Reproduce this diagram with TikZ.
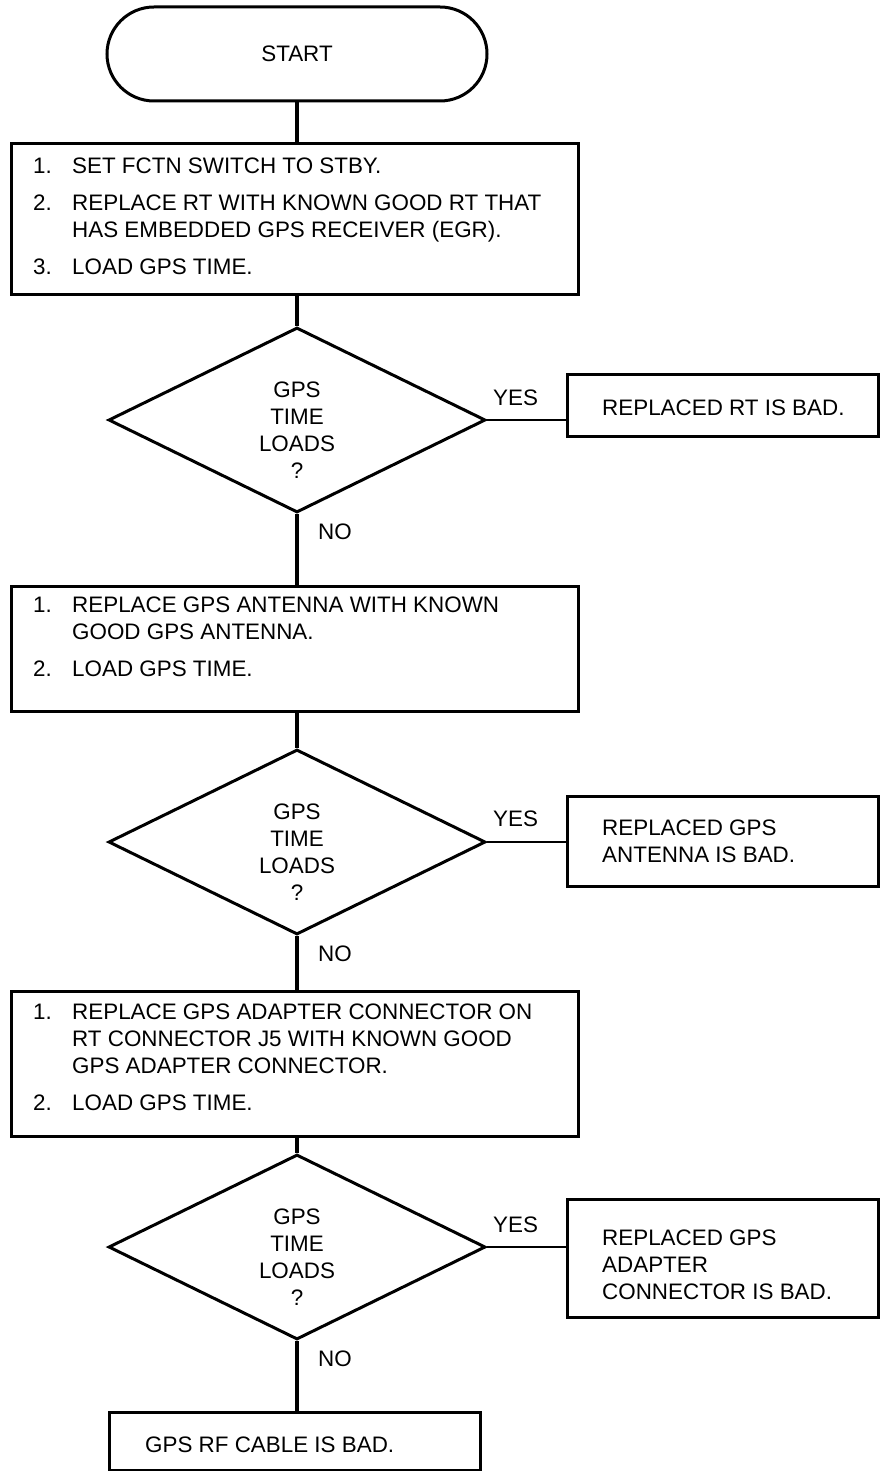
\documentclass[tikz,border=0pt]{standalone}
\usepackage{fontspec}
\setmainfont{Liberation Sans}
\usetikzlibrary{shapes.geometric}
\begin{document}
\begin{tikzpicture}[x=1pt,y=-1pt,
  every node/.style={font=\fontsize{22.4}{27}\selectfont, inner sep=0pt},
  termst/.style={draw, line width=3pt, rounded corners=47pt, minimum width=380pt, minimum height=94pt},
  boxst/.style={draw, line width=3pt, rectangle, anchor=north west},
  diast/.style={draw, line width=3pt, diamond, minimum width=377pt, minimum height=185pt},
  txt/.style={anchor=base west},
  qtxt/.style={align=center},
  conn/.style={line width=4.8pt},
  yconn/.style={line width=2.8pt}]
\useasboundingbox (0,0) rectangle (879,1471);

% start
\node[termst] (start) at (297,54) {START};

% box 1
\node[boxst, minimum width=567pt, minimum height=151pt] (b1) at (10,142) {};
\node[txt] (b1t) at (33,174) {\begin{tabular}[t]{@{}p{39pt}@{}l@{}}
1.&SET FCTN SWITCH TO STBY.\\[10pt]
2.&REPLACE RT WITH KNOWN GOOD RT THAT\\
  &HAS EMBEDDED GPS RECEIVER (EGR).\\[10pt]
3.&LOAD GPS TIME.\end{tabular}};

% decision 1
\node[diast] (d1) at (297,420) {};
\node[qtxt] (q1) at (297,430) {GPS\\TIME\\LOADS\\?};
\node[boxst, minimum width=311pt, minimum height=62pt] (y1) at (566,373) {};
\node[txt] (y1t) at (602,415) {REPLACED RT IS BAD.};
\node[txt] (yes1) at (493,405) {YES};
\node[txt] (no1) at (318,539) {NO};

% box 2
\node[boxst, minimum width=567pt, minimum height=125pt] (b2) at (10,585) {};
\node[txt] (b2t) at (33,612) {\begin{tabular}[t]{@{}p{39pt}@{}l@{}}
1.&REPLACE GPS ANTENNA WITH KNOWN\\
  &GOOD GPS ANTENNA.\\[10pt]
2.&LOAD GPS TIME.\end{tabular}};

% decision 2
\node[diast] (d2) at (297,842) {};
\node[qtxt] (q2) at (297,852) {GPS\\TIME\\LOADS\\?};
\node[boxst, minimum width=311pt, minimum height=90pt] (y2) at (566,795) {};
\node[txt] (y2t) at (602,835) {\begin{tabular}[t]{@{}l@{}}REPLACED GPS\\ANTENNA IS BAD.\end{tabular}};
\node[txt] (yes2) at (493,826) {YES};
\node[txt] (no2) at (318,961) {NO};

% box 3
\node[boxst, minimum width=567pt, minimum height=145pt] (b3) at (10,990) {};
\node[txt] (b3t) at (33,1019) {\begin{tabular}[t]{@{}p{39pt}@{}l@{}}
1.&REPLACE GPS ADAPTER CONNECTOR ON\\
  &RT CONNECTOR J5 WITH KNOWN GOOD\\
  &GPS ADAPTER CONNECTOR.\\[10pt]
2.&LOAD GPS TIME.\end{tabular}};

% decision 3
\node[diast] (d3) at (297,1247) {};
\node[qtxt] (q3) at (297,1257) {GPS\\TIME\\LOADS\\?};
\node[boxst, minimum width=311pt, minimum height=118pt] (y3) at (566,1198) {};
\node[txt] (y3t) at (602,1245) {\begin{tabular}[t]{@{}l@{}}REPLACED GPS\\ADAPTER\\CONNECTOR IS BAD.\end{tabular}};
\node[txt] (yes3) at (493,1232) {YES};
\node[txt] (no3) at (318,1366) {NO};

% final
\node[boxst, minimum width=371pt, minimum height=58pt] (fin) at (108,1411) {};
\node[txt] (fint) at (145,1452) {GPS RF CABLE IS BAD.};

% connectors
\draw[conn] (start.south) -- (start.south |- b1.north);
\draw[conn] (d1.north |- b1.south) -- (d1.north);
\draw[conn] (d1.south) -- (d1.south |- b2.north);
\draw[conn] (d2.north |- b2.south) -- (d2.north);
\draw[conn] (d2.south) -- (d2.south |- b3.north);
\draw[conn] (d3.north |- b3.south) -- (d3.north);
\draw[conn] (d3.south) -- (d3.south |- fin.north);
\draw[yconn] (d1.east) -- (d1.east -| y1.west);
\draw[yconn] (d2.east) -- (d2.east -| y2.west);
\draw[yconn] (d3.east) -- (d3.east -| y3.west);
\end{tikzpicture}
\end{document}
